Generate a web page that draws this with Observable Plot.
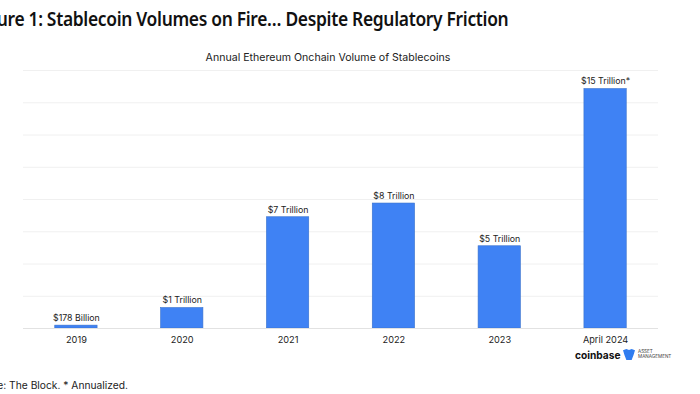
<!DOCTYPE html>
<html>
<head>
<meta charset="utf-8">
<script src="https://cdn.jsdelivr.net/npm/d3@7"></script>
<script src="https://cdn.jsdelivr.net/npm/@observablehq/plot@0.6"></script>
<style>
html,body{margin:0;padding:0;background:#fff;width:700px;height:394px;overflow:hidden}
#page{position:relative;width:700px;height:394px;overflow:hidden}
#title{height:46px;position:relative;overflow:hidden}
#title span{position:absolute;right:192px;top:6px;white-space:nowrap;font:600 19px "Noto Sans",sans-serif;letter-spacing:-.35px;color:#111;transform:scaleX(.917);transform-origin:right center}
#sub{height:18px;width:656px;text-align:center;font:10.6px/23px Inter,sans-serif;color:#222}
#chart svg{display:block}
#logo{height:16px;position:relative}
#logo b{position:absolute;left:575px;top:-1px;font:700 10.2px/16px Inter,sans-serif;color:#111}
#logo i{position:absolute;left:623px;top:1px;width:12px;height:11px;background:#2f7df0;clip-path:polygon(0 12%,28% 0,50% 10%,72% 0,100% 12%,88% 55%,72% 100%,28% 100%,12% 55%)}
#logo span{position:absolute;left:638px;top:2px;font:4.6px/4.8px Inter,sans-serif;color:#444}
#cap{position:relative;height:30px;overflow:hidden}
#cap span{position:absolute;right:572px;top:14px;white-space:nowrap;font:10.25px/14px Inter,sans-serif;color:#222}
</style>
</head>
<body>
<div id="page">
<div id="title"><span>Figure 1: Stablecoin Volumes on Fire… Despite Regulatory Friction</span></div>
<div id="sub">Annual Ethereum Onchain Volume of Stablecoins</div>
<div id="chart"></div>
<div id="logo"><b>coinbase</b><i></i><span>ASSET<br>MANAGEMENT</span></div>
<div id="cap"><span>Source: The Block. * Annualized.</span></div>
</div>
<script>
const years = ["2019", "2020", "2021", "2022", "2023", "April 2024"];
const volumes = [0.178, 1.27, 6.9, 7.75, 5.1, 14.85];
const barLabels = ["$178 Billion", "$1 Trillion", "$7 Trillion", "$8 Trillion", "$5 Trillion", "$15 Trillion*"];
const gridValues = [2, 4, 6, 8, 10, 12, 14, 16];
const rows = years.map((year, i) => ({year, volume: volumes[i], label: barLabels[i]}));

const plot = Plot.plot({
  width: 700,
  height: 284,
  marginTop: 6,
  marginBottom: 20,
  marginLeft: 23,
  marginRight: 42,
  style: {fontFamily: "Inter, sans-serif", background: "#fff"},
  x: {domain: years, paddingInner: 0.6, paddingOuter: 0.3, align: 0.5, round: false, label: null},
  y: {domain: [0, 16], axis: null},
  marks: [
    Plot.ruleY(gridValues, {stroke: "#f0f0f0", strokeWidth: 1}),
    Plot.barY(rows, {x: "year", y: "volume", fill: "#3f82f4", stroke: "#3a72cc", strokeWidth: 0.6}),
    Plot.ruleY([0], {stroke: "#e2e2e2", strokeWidth: 1}),
    Plot.text(rows, {x: "year", y: "volume", text: "label", dy: -7.5, fontSize: 8.8, fill: "#222"}),
    Plot.axisX({fontSize: 9.2, tickSize: 0, tickPadding: 8, color: "#222", label: null})
  ]
});
document.getElementById("chart").appendChild(plot);
</script>
</body>
</html>
